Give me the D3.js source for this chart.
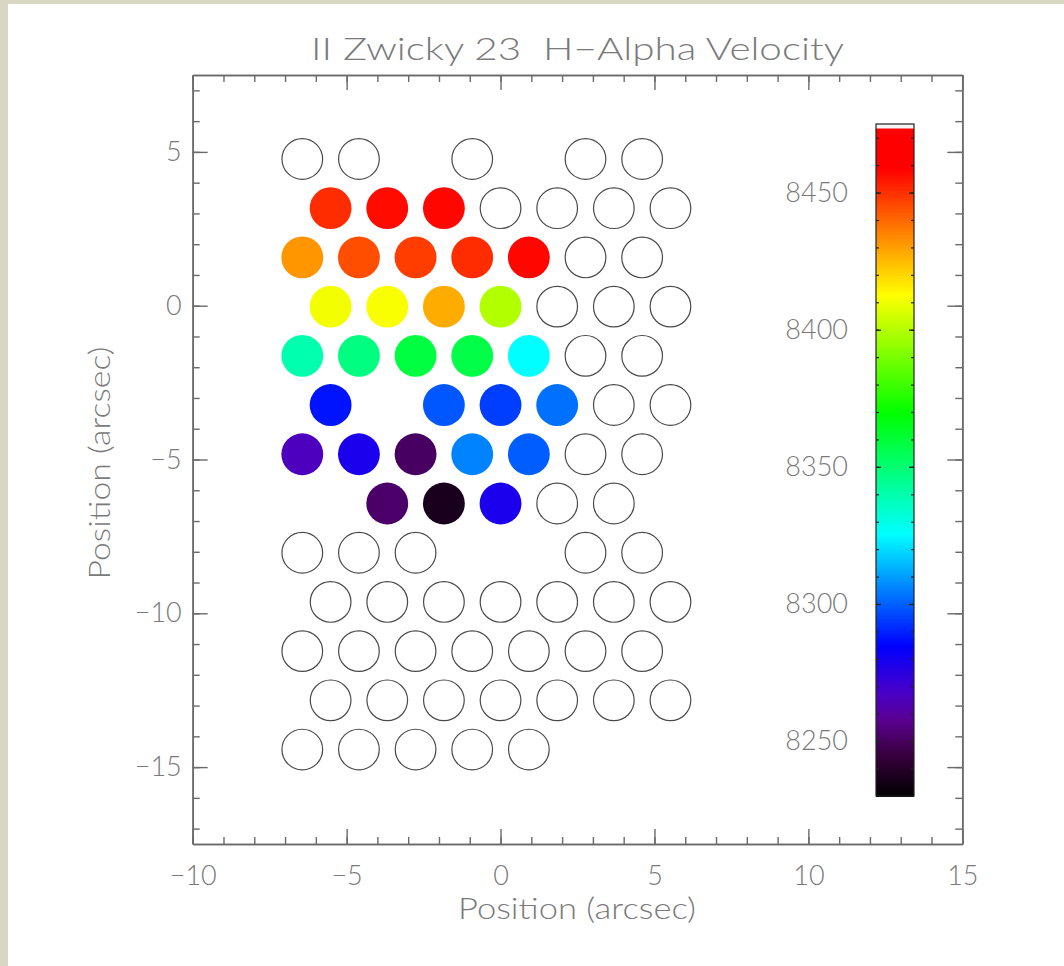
<!DOCTYPE html>
<html>
<head>
<meta charset="utf-8">
<script src="https://cdn.jsdelivr.net/npm/d3@7"></script>
<style>
  html, body { margin: 0; padding: 0; background: #d9d7c3; }
  svg { display: block; }
  text { font-family: "Lato", "DejaVu Sans", sans-serif; font-weight: 300; fill: #7a7a7a; white-space: pre; }
</style>
</head>
<body>
<svg id="chart" width="1064" height="966"></svg>
<script>
// ---------------- DATA ----------------
const titleText = "II Zwicky 23  H\u2212Alpha Velocity";
const xLabel = "Position (arcsec)";
const yLabel = "Position (arcsec)";

const xDomain = [-10, 15];
const yDomain = [-17.5, 7.5];
const xMajorTicks = [-10, -5, 0, 5, 10, 15];
const yMajorTicks = [-15, -10, -5, 0, 5];

// fibre rows (arcsec)
const rowY = [4.77, 3.17, 1.57, -0.03, -1.63, -3.23, -4.83, -6.43, -8.03, -9.63, -11.23, -12.83, -14.43];
const rowX = [
  [-6.44, -4.60, -0.92, 2.76, 4.60],
  [-5.52, -3.68, -1.84, 0.00, 1.84, 3.68, 5.52],
  [-6.44, -4.60, -2.76, -0.92, 0.92, 2.76, 4.60],
  [-5.52, -3.68, -1.84, 0.00, 1.84, 3.68, 5.52],
  [-6.44, -4.60, -2.76, -0.92, 0.92, 2.76, 4.60],
  [-5.52, -1.84, 0.00, 1.84, 3.68, 5.52],
  [-6.44, -4.60, -2.76, -0.92, 0.92, 2.76, 4.60],
  [-3.68, -1.84, 0.00, 1.84, 3.68],
  [-6.44, -4.60, -2.76, 2.76, 4.60],
  [-5.52, -3.68, -1.84, 0.00, 1.84, 3.68, 5.52],
  [-6.44, -4.60, -2.76, -0.92, 0.92, 2.76, 4.60],
  [-5.52, -3.68, -1.84, 0.00, 1.84, 3.68, 5.52],
  [-6.44, -4.60, -2.76, -0.92, 0.92]
];
// H-alpha velocity (km/s); null = no measurement (open fibre)
const rowVel = [
  [null, null, null, null, null],
  [8451, 8457, 8458, null, null, null, null],
  [8432, 8445, 8448, 8451, 8458, null, null],
  [8411, 8412, 8428, 8400, null, null, null],
  [8340, 8348, 8359, 8358, 8326, null, null],
  [8288, 8299, 8295, 8303, null, null],
  [8266, 8279, 8251, 8306, 8300, null, null],
  [8252, 8237, 8279, null, null],
  [null, null, null, null, null],
  [null, null, null, null, null, null, null],
  [null, null, null, null, null, null, null],
  [null, null, null, null, null, null, null],
  [null, null, null, null, null]
];
const fibreRadius = 0.68; // arcsec

// colour bar
const velDomain = [8230, 8475];
const velTicks = [8250, 8300, 8350, 8400, 8450];
const cmapStops  = [8230, 8246, 8258, 8268, 8285, 8326, 8370, 8413, 8459, 8473.5, 8474, 8475];
const cmapColors = ["#000000", "#3a0040", "#5a0090", "#4a00c8", "#0000ff", "#00ffff",
                    "#00ff00", "#ffff00", "#ff0000", "#ff0000", "#f4f4f4", "#f4f4f4"];

// ---------------- DRAW ----------------
const svg = d3.select("#chart");

// white sheet over beige border
svg.append("rect").attr("x", 8).attr("y", 4).attr("width", 1056).attr("height", 962).attr("fill", "#ffffff");

const x = d3.scaleLinear().domain(xDomain).range([192.7, 962.3]);
const y = d3.scaleLinear().domain(yDomain).range([844, 75]);
const color = d3.scaleLinear().domain(cmapStops).range(cmapColors).interpolate(d3.interpolateRgb).clamp(true);

const axisColor = "#6a6a6a";
function styleAxis(g, keepText) {
  g.select(".domain").attr("stroke", axisColor).attr("stroke-width", 1.6);
  g.selectAll(".tick line").attr("stroke", axisColor).attr("stroke-width", 1.4);
  if (!keepText) g.selectAll(".tick text").remove();
  else g.selectAll(".tick text").attr("fill", "#7a7a7a").attr("font-size", 27)
        .attr("font-family", "Lato, 'DejaVu Sans', sans-serif").attr("font-weight", 300);
}
const fmt = d => d < 0 ? "\u2212" + Math.abs(d) : String(d);
const xMinor = d3.range(xDomain[0], xDomain[1] + 0.001, 1);
const yMinor = d3.range(-17, 7.001, 1);

// minor ticks
svg.append("g").attr("transform", `translate(0,${y(yDomain[0])})`)
  .call(d3.axisBottom(x).tickValues(xMinor).tickSize(-7).tickSizeOuter(0)).call(g => styleAxis(g, false));
svg.append("g").attr("transform", `translate(0,${y(yDomain[1])})`)
  .call(d3.axisTop(x).tickValues(xMinor).tickSize(-7).tickSizeOuter(0)).call(g => styleAxis(g, false));
svg.append("g").attr("transform", `translate(${x(xDomain[0])},0)`)
  .call(d3.axisLeft(y).tickValues(yMinor).tickSize(-7).tickSizeOuter(0)).call(g => styleAxis(g, false));
svg.append("g").attr("transform", `translate(${x(xDomain[1])},0)`)
  .call(d3.axisRight(y).tickValues(yMinor).tickSize(-7).tickSizeOuter(0)).call(g => styleAxis(g, false));

// major ticks with labels
svg.append("g").attr("transform", `translate(0,${y(yDomain[0])})`)
  .call(d3.axisBottom(x).tickValues(xMajorTicks).tickFormat(fmt).tickSize(-15).tickSizeOuter(0).tickPadding(22))
  .call(g => styleAxis(g, true));
svg.append("g").attr("transform", `translate(0,${y(yDomain[1])})`)
  .call(d3.axisTop(x).tickValues(xMajorTicks).tickSize(-15).tickSizeOuter(0)).call(g => styleAxis(g, false));
svg.append("g").attr("transform", `translate(${x(xDomain[0])},0)`)
  .call(d3.axisLeft(y).tickValues(yMajorTicks).tickFormat(fmt).tickSize(-15).tickSizeOuter(0).tickPadding(11))
  .call(g => styleAxis(g, true));
svg.append("g").attr("transform", `translate(${x(xDomain[1])},0)`)
  .call(d3.axisRight(y).tickValues(yMajorTicks).tickSize(-15).tickSizeOuter(0)).call(g => styleAxis(g, false));

// fibres
const fibres = [];
rowY.forEach((yy, i) => rowX[i].forEach((xx, j) => fibres.push({x: xx, y: yy, v: rowVel[i][j]})));
const rpx = x(fibreRadius) - x(0);
svg.append("g").selectAll("circle").data(fibres).join("circle")
  .attr("cx", d => x(d.x)).attr("cy", d => y(d.y)).attr("r", d => d.v == null ? rpx - 0.6 : rpx)
  .attr("fill", d => d.v == null ? "none" : color(d.v))
  .attr("stroke", d => d.v == null ? "#4a4a4a" : "none")
  .attr("stroke-width", 1.2);

// colour bar
const cbX0 = 876, cbX1 = 914;
const cb = d3.scaleLinear().domain(velDomain).range([796, 124]);
const cbStep = 0.5;
svg.append("g").attr("shape-rendering", "crispEdges").selectAll("rect")
  .data(d3.range(velDomain[0], velDomain[1], cbStep)).join("rect")
  .attr("x", cbX0).attr("width", cbX1 - cbX0)
  .attr("y", d => cb(d + cbStep)).attr("height", d => Math.max(cb(d) - cb(d + cbStep), 0) + 1.2)
  .attr("fill", d => color(d + cbStep / 2));
const cbMinor = d3.range(8240, 8471, 10);
[[cbX0, d3.axisLeft], [cbX1, d3.axisRight]].forEach(([xx, ax]) => {
  svg.append("g").attr("transform", `translate(${xx},0)`)
    .call(ax(cb).tickValues(cbMinor).tickSize(-3).tickSizeOuter(0))
    .call(g => { g.select(".domain").remove(); g.selectAll("text").remove();
                 g.selectAll(".tick line").attr("stroke", "#222").attr("stroke-width", 1.2); });
  svg.append("g").attr("transform", `translate(${xx},0)`)
    .call(ax(cb).tickValues(velTicks).tickSize(-5).tickSizeOuter(0))
    .call(g => { g.select(".domain").remove(); g.selectAll("text").remove();
                 g.selectAll(".tick line").attr("stroke", "#222").attr("stroke-width", 1.3); });
});
svg.append("rect").attr("x", cbX0).attr("y", cb(velDomain[1])).attr("width", cbX1 - cbX0)
  .attr("height", cb(velDomain[0]) - cb(velDomain[1])).attr("fill", "none").attr("stroke", "#222").attr("stroke-width", 1.2);
svg.append("g").attr("transform", `translate(${cbX0},0)`)
  .call(d3.axisLeft(cb).tickValues(velTicks).tickFormat(d3.format("d")).tickSize(0).tickPadding(28))
  .call(g => { g.select(".domain").remove(); styleAxis(g, true); });

// titles
svg.append("text").attr("x", 577.5).attr("y", 60).attr("text-anchor", "middle")
  .attr("font-size", 31).attr("textLength", 533).attr("lengthAdjust", "spacingAndGlyphs").text(titleText);
svg.append("text").attr("x", 577).attr("y", 919).attr("text-anchor", "middle")
  .attr("font-size", 29).attr("textLength", 238).attr("lengthAdjust", "spacingAndGlyphs").text(xLabel);
svg.append("text").attr("transform", "translate(110,463) rotate(-90)").attr("text-anchor", "middle")
  .attr("font-size", 29).attr("textLength", 233).attr("lengthAdjust", "spacingAndGlyphs").text(yLabel);
</script>
</body>
</html>
